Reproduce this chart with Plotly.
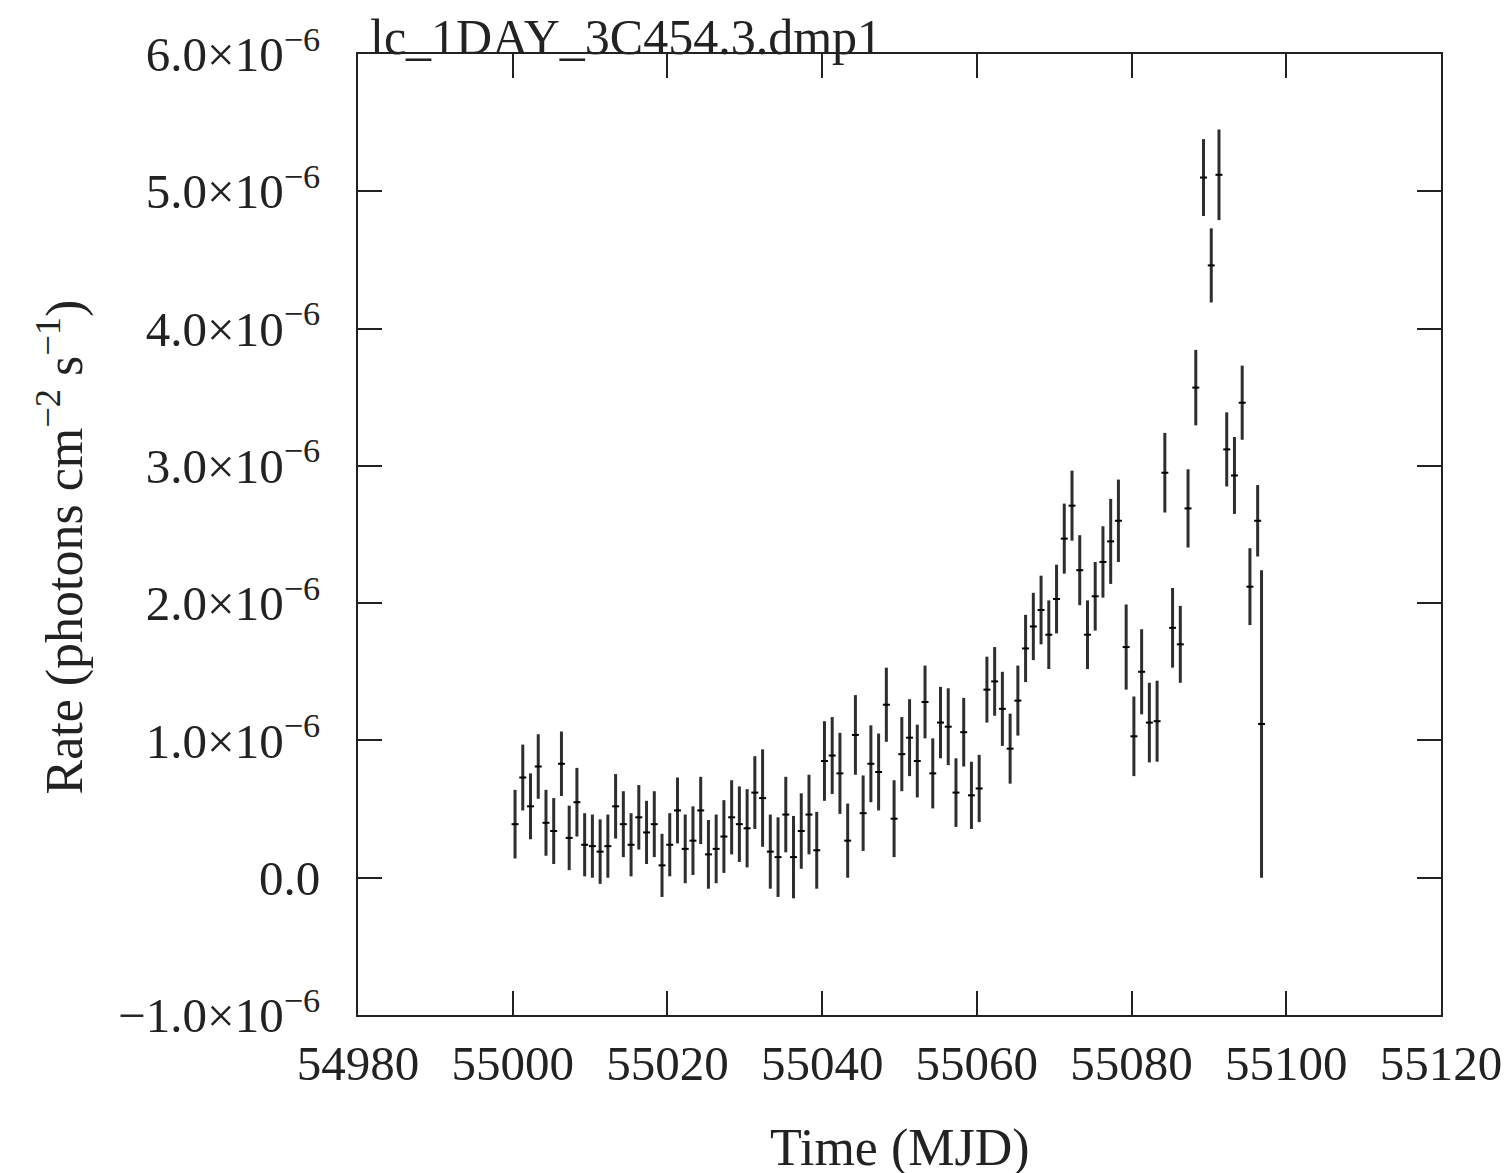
import plotly.graph_objects as go

# Time (MJD) of each bin
time_mjd = [
    55000.3, 55001.3, 55002.3, 55003.3, 55004.3, 55005.3, 55006.3, 55007.3, 55008.3, 55009.3,
    55010.3, 55011.3, 55012.3, 55013.3, 55014.3, 55015.3, 55016.3, 55017.3, 55018.3, 55019.3,
    55020.3, 55021.3, 55022.3, 55023.3, 55024.3, 55025.3, 55026.3, 55027.3, 55028.3, 55029.3,
    55030.3, 55031.3, 55032.3, 55033.3, 55034.3, 55035.3, 55036.3, 55037.3, 55038.3, 55039.3,
    55040.3, 55041.3, 55042.3, 55043.3, 55044.3, 55045.3, 55046.3, 55047.3, 55048.3, 55049.3,
    55050.3, 55051.3, 55052.3, 55053.3, 55054.3, 55055.3, 55056.3, 55057.3, 55058.3, 55059.3,
    55060.3, 55061.3, 55062.3, 55063.3, 55064.3, 55065.3, 55066.3, 55067.3, 55068.3, 55069.3,
    55070.3, 55071.3, 55072.3, 55073.3, 55074.3, 55075.3, 55076.3, 55077.3, 55078.3, 55079.3,
    55080.3, 55081.3, 55082.3, 55083.3, 55084.3, 55085.3, 55086.3, 55087.3, 55088.3, 55089.3,
    55090.3, 55091.3, 55092.3, 55093.3, 55094.3, 55095.3, 55096.3, 55096.8,
]

# Rate in units of 1e-6 photons cm^-2 s^-1
rate = [
    0.39, 0.73, 0.52, 0.81, 0.40, 0.34, 0.83, 0.29, 0.55, 0.24,
    0.23, 0.19, 0.23, 0.52, 0.39, 0.24, 0.44, 0.33, 0.39, 0.09,
    0.24, 0.49, 0.21, 0.27, 0.49, 0.17, 0.21, 0.30, 0.44, 0.39,
    0.36, 0.62, 0.58, 0.19, 0.15, 0.46, 0.15, 0.34, 0.46, 0.20,
    0.85, 0.89, 0.76, 0.27, 1.04, 0.47, 0.83, 0.77, 1.26, 0.43,
    0.90, 1.02, 0.85, 1.28, 0.76, 1.13, 1.10, 0.62, 1.06, 0.60,
    0.65, 1.37, 1.43, 1.23, 0.94, 1.29, 1.67, 1.83, 1.95, 1.77,
    2.03, 2.47, 2.71, 2.24, 1.77, 2.05, 2.30, 2.45, 2.60, 1.68,
    1.03, 1.50, 1.13, 1.14, 2.95, 1.82, 1.70, 2.69, 3.57, 5.10,
    4.46, 5.12, 3.12, 2.93, 3.46, 2.12, 2.60, 1.12,
]

# 1-sigma error in units of 1e-6
rate_err = [
    0.25, 0.24, 0.24, 0.235, 0.24, 0.24, 0.235, 0.235, 0.25, 0.23,
    0.23, 0.235, 0.23, 0.235, 0.24, 0.23, 0.235, 0.23, 0.24, 0.23,
    0.23, 0.24, 0.25, 0.25, 0.245, 0.25, 0.25, 0.265, 0.27, 0.275,
    0.285, 0.265, 0.355, 0.27, 0.29, 0.275, 0.30, 0.275, 0.29, 0.28,
    0.29, 0.28, 0.295, 0.27, 0.29, 0.275, 0.28, 0.28, 0.27, 0.28,
    0.27, 0.28, 0.265, 0.265, 0.255, 0.26, 0.28, 0.25, 0.25, 0.245,
    0.245, 0.24, 0.25, 0.27, 0.255, 0.255, 0.245, 0.245, 0.25, 0.25,
    0.25, 0.255, 0.255, 0.255, 0.25, 0.25, 0.26, 0.31, 0.30, 0.31,
    0.29, 0.31, 0.29, 0.295, 0.29, 0.29, 0.28, 0.285, 0.275, 0.28,
    0.27, 0.33, 0.27, 0.28, 0.27, 0.28, 0.26, 1.12,
]

x_ticks = [54980, 55000, 55020, 55040, 55060, 55080, 55100, 55120]
y_ticks = [-1, 0, 1, 2, 3, 4, 5, 6]
y_ticktext = [
    "\u22121.0\u00d710<sup>\u22126</sup>", "0.0",
    "1.0\u00d710<sup>\u22126</sup>", "2.0\u00d710<sup>\u22126</sup>",
    "3.0\u00d710<sup>\u22126</sup>", "4.0\u00d710<sup>\u22126</sup>",
    "5.0\u00d710<sup>\u22126</sup>", "6.0\u00d710<sup>\u22126</sup>",
]

FONT = "Liberation Serif"
TICK_FS = 49
TITLE_FS = 52
INK = "#222222"

fig = go.Figure()
fig.add_trace(go.Scatter(
    x=time_mjd, y=rate, mode="markers",
    marker=dict(size=1, color="rgba(0,0,0,0)"),
    error_y=dict(type="data", array=rate_err, visible=True, color="#2e2e2e", thickness=3, width=0),
    error_x=dict(type="constant", value=0.45, visible=True, color="#000000", thickness=2, width=0),
    showlegend=False,
))

fig.update_layout(
    width=1511, height=1173,
    margin=dict(l=350, r=78, t=41, b=166),
    paper_bgcolor="white", plot_bgcolor="white",
    font=dict(family=FONT, size=TICK_FS, color=INK),
    xaxis=dict(
        range=[54980, 55120], tickvals=x_ticks, ticktext=[str(v) for v in x_ticks],
        showgrid=False, zeroline=False, showline=True, linecolor=INK, linewidth=2,
        mirror="ticks", ticks="inside", ticklen=24, tickwidth=2, tickcolor=INK,
        tickfont=dict(family=FONT, size=TICK_FS), ticklabelstandoff=4,
    ),
    yaxis=dict(
        range=[-1, 6], tickvals=y_ticks, ticktext=y_ticktext,
        showgrid=False, zeroline=False, showline=True, linecolor=INK, linewidth=2,
        mirror="ticks", ticks="inside", ticklen=24, tickwidth=2, tickcolor=INK,
        tickfont=dict(family=FONT, size=TICK_FS), ticklabelstandoff=26,
    ),
    annotations=[
        dict(text="lc_1DAY_3C454.3.dmp1", xref="paper", yref="paper", x=0, y=1,
             xanchor="left", yanchor="bottom", xshift=10, yshift=-13, showarrow=False,
             font=dict(family=FONT, size=50)),
        dict(text="Time (MJD)", xref="paper", yref="paper", x=0.5, y=0,
             xanchor="center", yanchor="middle", yshift=-133, showarrow=False,
             font=dict(family=FONT, size=TITLE_FS)),
        dict(text="Rate (photons cm<sup>\u22122</sup> s<sup>\u22121</sup>)", xref="paper", yref="paper",
             x=0, y=0.5, xanchor="center", yanchor="middle", xshift=-297, yshift=-13, textangle=-90,
             showarrow=False, font=dict(family=FONT, size=TITLE_FS)),
    ],
)

fig.write_html("out.html")
